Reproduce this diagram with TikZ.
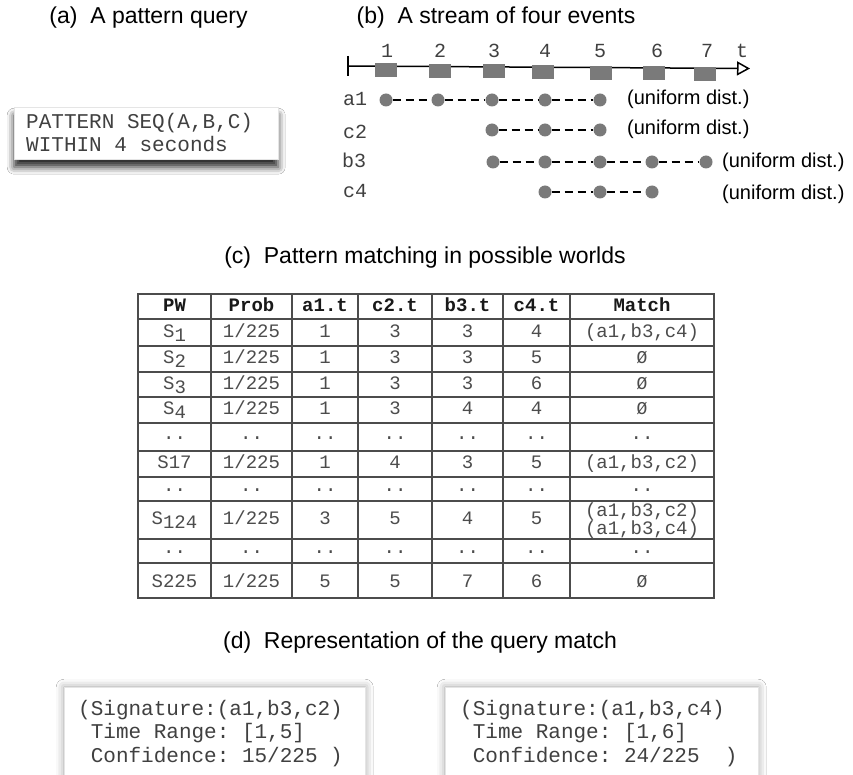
\documentclass[tikz,border=0pt]{standalone}
\usepackage{fontspec}
\setmainfont{Liberation Sans}
\setmonofont{Liberation Mono}
\usetikzlibrary{arrows.meta,shadows.blur}

% one row of the possible-worlds table: id, baseline, seven cells
\newcommand\tabrow[9]{%
  \node[cell] (#1-pw) at (174.5,#2) {#3};
  \node[cell] (#1-pr) at (251.5,#2) {#4};
  \node[cell] (#1-a)  at (325,#2)   {#5};
  \node[cell] (#1-c)  at (395,#2)   {#6};
  \node[cell] (#1-b)  at (467.5,#2) {#7};
  \node[cell] (#1-d)  at (536.5,#2) {#8};
  \node[cell] (#1-m)  at (642,#2)   {#9};}
\newcommand\lowered[1]{\raisebox{-4pt}{#1}}
\newcommand\noworld{{\fontsize{18}{20}\selectfont Ø}}

\begin{document}
\begin{tikzpicture}[x=1pt,y=-1pt,
  title/.style={font=\fontsize{23}{27}\selectfont, anchor=base, inner sep=0pt},
  codetxt/.style={font=\fontsize{21}{23}\ttfamily, text=black!75, anchor=base west, inner sep=0pt},
  evlabel/.style={font=\fontsize{20}{22}\ttfamily, text=black!75, inner sep=0pt, anchor=base},
  distlabel/.style={font=\fontsize{20}{22}\selectfont, anchor=base west, inner sep=0pt},
  slot/.style={fill=black!52, minimum width=22pt, minimum height=14pt, inner sep=0pt},
  evdot/.style={circle, fill=black!52, minimum size=13pt, inner sep=0pt},
  spanline/.style={dash pattern=on 8pt off 5pt, line width=1.6pt},
  tabline/.style={draw=black!70, line width=1.3pt},
  cell/.style={font=\fontsize{19}{21}\ttfamily, text=black!70, anchor=base, inner sep=0pt},
  head/.style={cell, font=\fontsize{19}{21}\ttfamily\bfseries, text=black!90},
  card/.style={fill=white, draw=black!10, line width=0.4pt, inner sep=0pt}
]
\useasboundingbox (0,0) rectangle (853,775);
\clip (0,0) rectangle (853,775);
\fill[white] (0,0) rectangle (853,775);

% ---------- titles ----------
\node[title] (ta) at (148.5,24) {(a)\ \ A pattern query};
\node[title] (tb) at (496,24) {(b)\ \ A stream of four events};
\node[title] (tc) at (425,264) {(c)\ \ Pattern matching in possible worlds};
\node[title] (td) at (420,648) {(d)\ \ Representation of the query match};

% ---------- (a) query ----------
\node[card, minimum width=264pt, minimum height=52pt, anchor=north west,
      blur shadow={shadow xshift=0pt, shadow yshift=-8pt, shadow blur radius=7pt, shadow opacity=85}]
      (qbox) at (14,107) {};
\node[codetxt] (q1) at (26,129) {PATTERN SEQ(A,B,C)};
\node[codetxt] (q2) at (26,152) {WITHIN 4 seconds};

% ---------- (b) event stream ----------
\coordinate (axL) at (348,66);
\coordinate (axR) at (750,68.5);
\draw[line width=1.5pt] (348,56) -- (348,76);
\draw[line width=1.5pt, -{Triangle[open, length=13pt, width=14pt, line width=1.5pt]}] (axL) -- (axR);
\foreach \n/\x/\y in {1/386/70, 2/440/70.8, 3/494/71.5, 4/543/72.2, 5/601/72.8, 6/654/73.5, 7/705/74.2}
  \node[slot] (slot\n) at (\x,\y) {};
\foreach \n/\x in {1/387, 2/440, 3/494, 4/545, 5/600, 6/657, 7/707}
  \node[evlabel] (tl\n) at (\x,58) {\n};
\node[evlabel] (tt) at (742,58) {t};

\node[evlabel, anchor=base west] (la) at (343,106) {a1};
\node[evlabel, anchor=base west] (lc2) at (343,139) {c2};
\node[evlabel, anchor=base west] (lb) at (342,168) {b3};
\node[evlabel, anchor=base west] (lc4) at (343,198) {c4};

% a1: times 1..5
\foreach \n/\x in {1/386, 2/438, 3/492, 4/545, 5/600}
  \node[evdot] (a\n) at (\x,100) {};
\draw[spanline] (a1) -- (a2) (a2) -- (a3) (a3) -- (a4) (a4) -- (a5);
% c2: times 3..5
\foreach \n/\x in {3/492, 4/545, 5/600}
  \node[evdot] (c\n) at (\x,130) {};
\draw[spanline] (c3) -- (c4) (c4) -- (c5);
% b3: times 3..7
\foreach \n/\x in {3/493, 4/545, 5/600, 6/652, 7/706}
  \node[evdot] (b\n) at (\x,162) {};
\draw[spanline] (b3) -- (b4) (b4) -- (b5) (b5) -- (b6) (b6) -- (b7);
% c4: times 4..6
\foreach \n/\x in {4/545, 5/600, 6/652}
  \node[evdot] (d\n) at (\x,192) {};
\draw[spanline] (d4) -- (d5) (d5) -- (d6);

\node[distlabel] (ua) at (627,105) {(uniform dist.)};
\node[distlabel] (uc2) at (627,135) {(uniform dist.)};
\node[distlabel] (ub) at (722,168) {(uniform dist.)};
\node[distlabel] (uc4) at (722,200) {(uniform dist.)};

% ---------- (c) possible worlds table ----------
\draw[tabline] (138,294) rectangle (714,598);
\foreach \x in {211,292,358,432,503,570}
  \draw[tabline] (\x,294) -- (\x,598);
\foreach \y in {319,346,372,397,423,451,477,501,539,563}
  \draw[tabline] (138,\y) -- (714,\y);

\node[head] (h-pw) at (174.5,311) {PW};
\node[head] (h-pr) at (251.5,311) {Prob};
\node[head] (h-a)  at (325,311)   {a1.t};
\node[head] (h-c)  at (395,311)   {c2.t};
\node[head] (h-b)  at (467.5,311) {b3.t};
\node[head] (h-d)  at (536.5,311) {c4.t};
\node[head] (h-m)  at (642,311)   {Match};

\tabrow{r1}{337}{S\lowered{1}}{1/225}{1}{3}{3}{4}{(a1,b3,c4)}
\tabrow{r2}{363.5}{S\lowered{2}}{1/225}{1}{3}{3}{5}{\noworld}
\tabrow{r3}{389}{S\lowered{3}}{1/225}{1}{3}{3}{6}{\noworld}
\tabrow{r4}{414.5}{S\lowered{4}}{1/225}{1}{3}{4}{4}{\noworld}
\tabrow{r5}{439.5}{..}{..}{..}{..}{..}{..}{..}
\tabrow{r6}{468.5}{S17}{1/225}{1}{4}{3}{5}{(a1,b3,c2)}
\tabrow{r7}{491}{..}{..}{..}{..}{..}{..}{..}
\tabrow{r8}{524}{S\lowered{124}}{1/225}{3}{5}{4}{5}{}
\node[cell] (r8-m1) at (642,516) {(a1,b3,c2)};
\node[cell] (r8-m2) at (642,534) {(a1,b3,c4)};
\tabrow{r9}{553.5}{..}{..}{..}{..}{..}{..}{..}
\tabrow{r10}{587}{S225}{1/225}{5}{5}{7}{6}{\noworld}

% ---------- (d) match representation ----------
\node[card, minimum width=301pt, minimum height=130pt, anchor=north west,
      blur shadow={shadow xshift=0pt, shadow yshift=0pt, shadow blur radius=8pt, shadow opacity=40}]
      (sig1) at (64,687) {};
\node[card, minimum width=313pt, minimum height=130pt, anchor=north west,
      blur shadow={shadow xshift=0pt, shadow yshift=0pt, shadow blur radius=8pt, shadow opacity=40}]
      (sig2) at (445,687) {};
\node[codetxt] (s1a) at (78,715) {(Signature:(a1,b3,c2)};
\node[codetxt] (s1b) at (78,738.5) {\ Time Range: [1,5]};
\node[codetxt] (s1c) at (78,762) {\ Confidence: 15/225 )};
\node[codetxt] (s2a) at (460,715) {(Signature:(a1,b3,c4)};
\node[codetxt] (s2b) at (460,738.5) {\ Time Range: [1,6]};
\node[codetxt] (s2c) at (460,762) {\ Confidence: 24/225\ \ )};
\end{tikzpicture}
\end{document}
